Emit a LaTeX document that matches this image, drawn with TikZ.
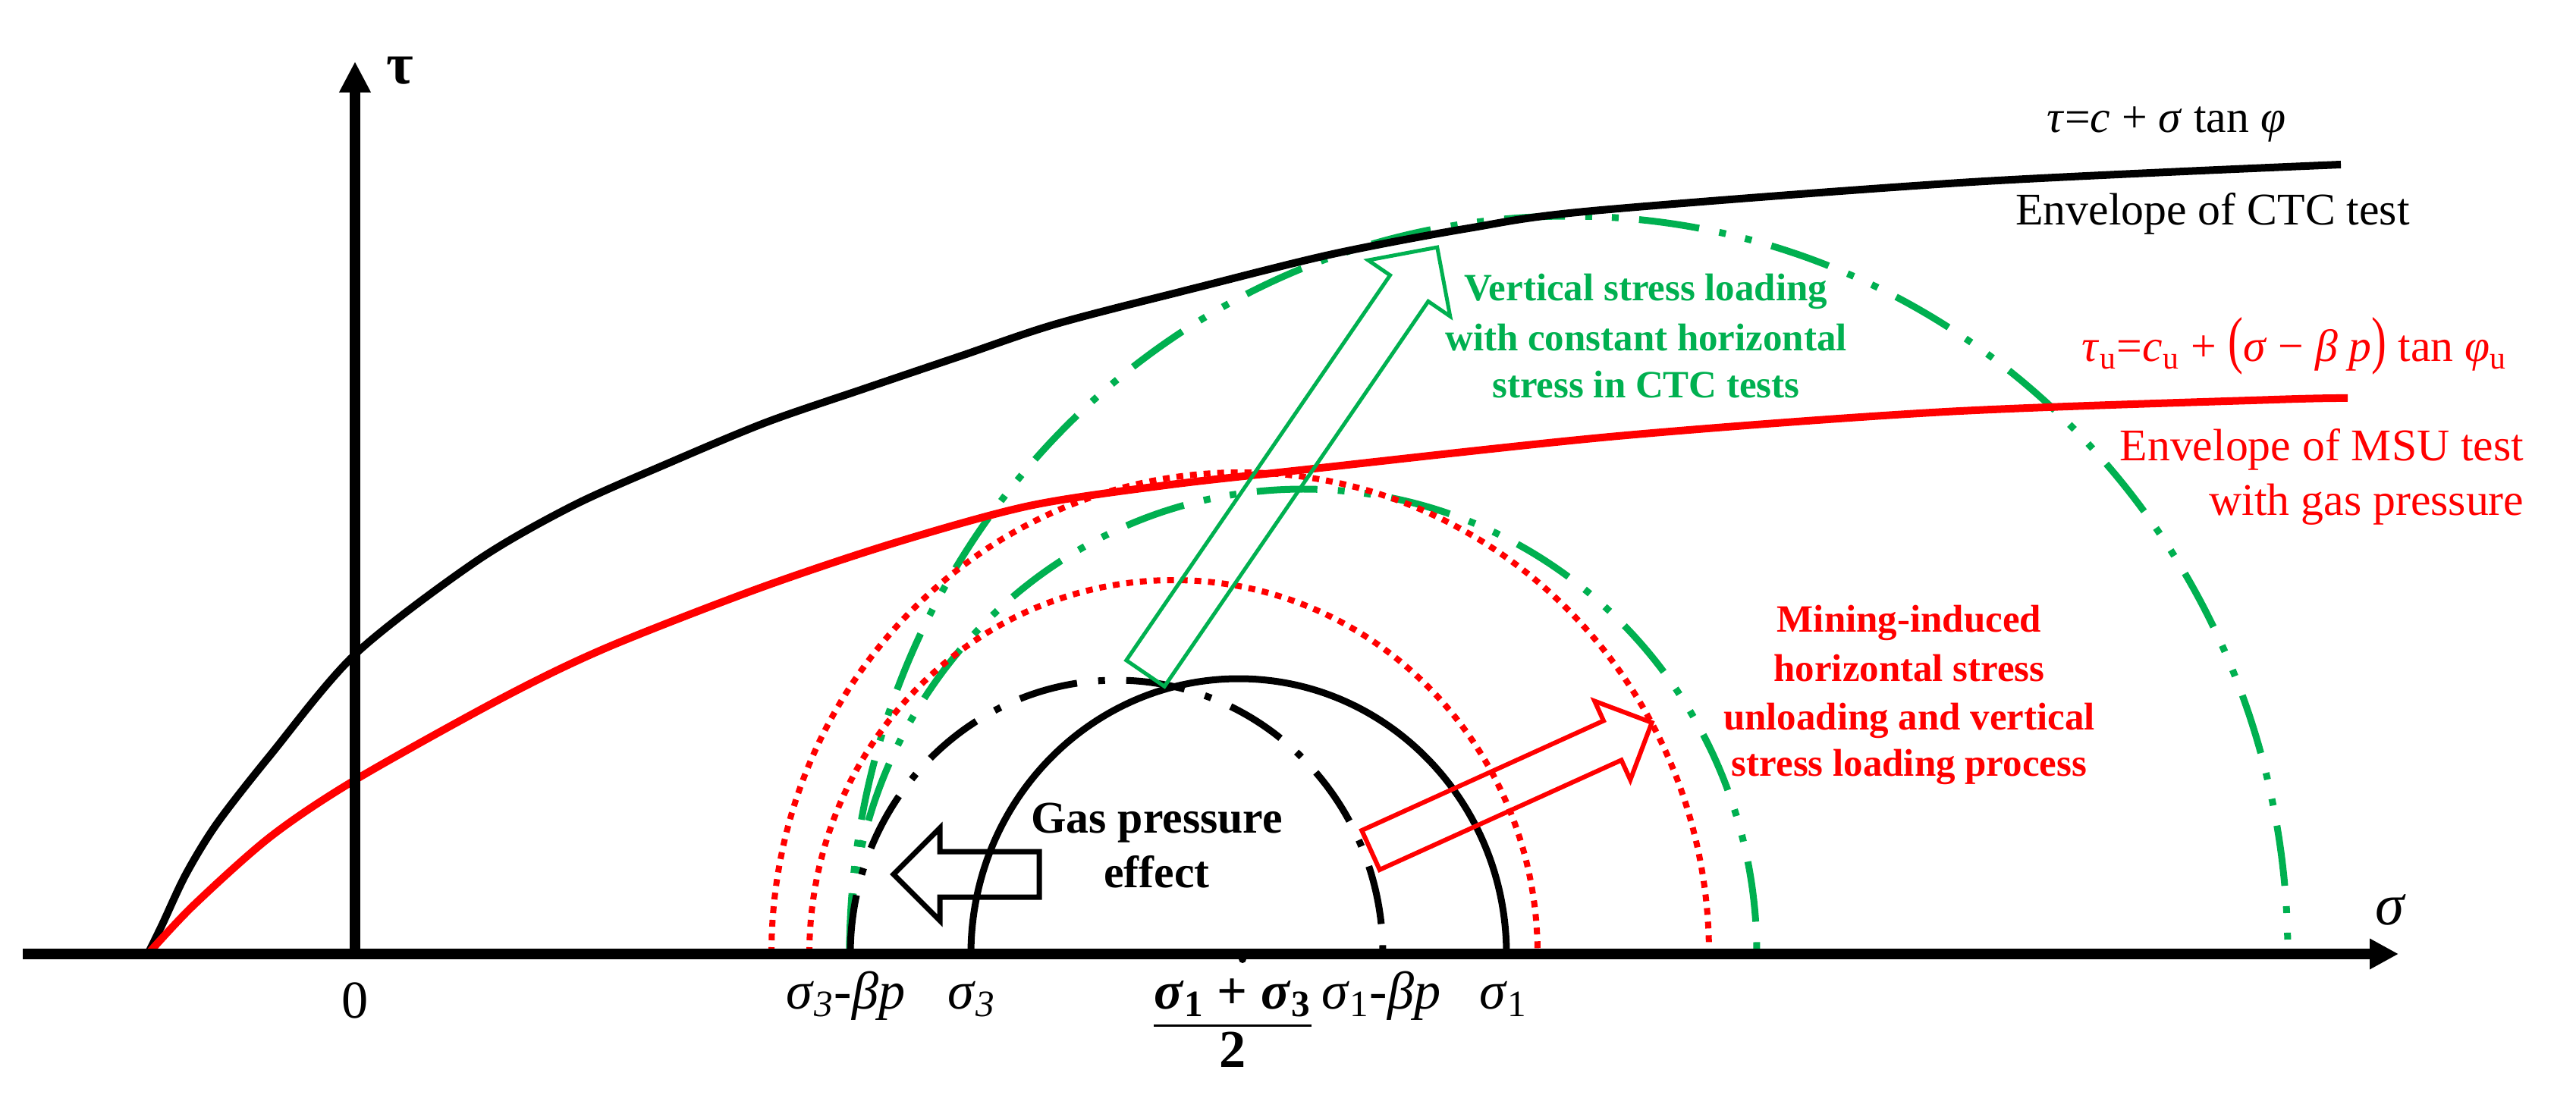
\documentclass[tikz,border=0pt]{standalone}
\usepackage{fontspec}
\setmainfont{Liberation Serif}
\usepackage{graphicx}
\usetikzlibrary{arrows.meta,shapes.arrows}

\definecolor{ctcgreen}{RGB}{0,176,80}

\tikzset{
  axisline/.style={line width=0.14cm},
  mohr/.style={line width=0.09cm},
  dashdot/.style={mohr,dash pattern=on 0.78cm off 0.28cm on 0.09cm off 0.28cm},
  dashdotdot/.style={mohr,ctcgreen,dash pattern=on 0.8cm off 0.27cm on 0.09cm off 0.26cm on 0.09cm off 0.27cm},
  dotline/.style={red,line width=0.08cm,dash pattern=on 0.09cm off 0.09cm},
  envelope/.style={line width=0.1cm},
  blockarrow/.style={single arrow,single arrow tip angle=90,anchor=tail,inner xsep=0pt,outer sep=0pt},
  lab/.style={inner sep=0pt,anchor=base,font=\fontsize{20}{24}\selectfont},
  envlab/.style={inner sep=0pt,anchor=base,font=\fontsize{17}{20}\selectfont},
  note/.style={inner sep=0pt,anchor=base,font=\fontsize{14.5}{17}\selectfont\bfseries},
}

\begin{document}
\begin{tikzpicture}
\useasboundingbox (-4.68,-1.85) rectangle (29.28,12.58);

% Mohr circles
\draw[dashdotdot] (6.52,0) arc[start angle=180,end angle=0,x radius=9.48,y radius=9.73];
\draw[dashdotdot] (6.52,0) arc[start angle=180,end angle=0,x radius=5.98,y radius=6.13];
\draw[dotline] (5.49,0) arc[start angle=180,end angle=0,x radius=6.18,y radius=6.35];
\draw[dotline] (5.99,0) arc[start angle=180,end angle=0,x radius=4.80,y radius=4.93];
\draw[dashdot] (6.53,0) arc[start angle=180,end angle=0,x radius=3.51,y radius=3.61];
\draw[mohr] (8.12,0) arc[start angle=180,end angle=0,x radius=3.53,y radius=3.63];
\fill (11.70,-0.07) circle (0.05);

% envelopes
\draw[envelope] plot[smooth] coordinates {(-2.73,0) (-2.54,0.39) (-2.23,1.05) (-1.82,1.72)
  (-1.11,2.63) (0.01,3.96) (1.60,5.18) (2.87,5.91) (4.15,6.48) (5.42,7.01) (6.70,7.45)
  (7.97,7.88) (9.25,8.31) (11.11,8.79) (12.89,9.23) (14.68,9.57) (16.32,9.80) (21.32,10.18)
  (26.18,10.41)};
\draw[envelope,red] plot[smooth] coordinates {(-2.73,0) (-2.13,0.64) (-1.11,1.55) (0.01,2.30)
  (1.95,3.38) (3.32,4.04) (5.32,4.82) (7.11,5.42) (8.89,5.91) (10.68,6.18) (12.46,6.38)
  (16.65,6.83) (20.97,7.15) (25.30,7.31) (26.27,7.33)};

% block arrows
\node[blockarrow,draw=ctcgreen,line width=0.05cm,inner ysep=0.28cm,single arrow head extend=0.35cm,
  minimum height=6.81cm,rotate=55.6] (loadarrow) at (10.42,3.70) {};
\node[blockarrow,draw=red,line width=0.06cm,inner ysep=0.255cm,single arrow head extend=0.285cm,
  minimum height=4.07cm,rotate=24.4] (minearrow) at (13.39,1.37) {};
\node[blockarrow,draw=black,line width=0.07cm,inner ysep=0.265cm,single arrow head extend=0.31cm,
  minimum height=1.92cm,rotate=180] (gasarrow) at (9.02,1.05) {};

% axes
\coordinate (sigstart) at (-4.38,0);
\coordinate (sigend) at (26.94,0);
\coordinate (origin) at (0,0);
\coordinate (tauend) at (0,11.77);
\draw[axisline,-{Triangle[length=0.38cm,width=0.38cm]}] (sigstart) -- (sigend);
\draw[axisline,-{Triangle[length=0.41cm,width=0.39cm]}] (origin) -- (tauend);
\node[inner sep=0pt,font=\fontsize{22}{26}\selectfont\bfseries] (taulab) at (0.59,11.65) {τ};
\node[inner sep=0pt,font=\fontsize{22}{26}\selectfont\itshape] (siglab) at (26.83,0.58) {σ};

% ticks
\node[lab] (zero) at (0,-0.84) {0};
\node[lab] (s3b) at (6.47,-0.72) {\textit{σ}\textsubscript{\textit{3}}-\textit{βp}};
\node[lab] (s3) at (8.13,-0.72) {\textit{σ}\textsubscript{\textit{3}}};
\node[lab] (num) at (11.57,-0.72) {\textbf{\textit{σ}\textsubscript{1} + \textit{σ}\textsubscript{3}}};
\draw[line width=0.03cm] ([yshift=-0.1cm]num.south west) -- ([yshift=-0.1cm]num.south east);
\node[lab] (den) at (11.57,-1.49) {\textbf{2}};
\node[lab] (s1b) at (13.53,-0.72) {\textit{σ}\textsubscript{1}-\textit{βp}};
\node[lab] (s1) at (15.14,-0.72) {\textit{σ}\textsubscript{1}};

% envelope labels
\node[envlab] (ctcform) at (23.88,10.83) {\textit{τ}=\textit{c} + \textit{σ} tan \textit{φ}};
\node[envlab] (ctclab) at (24.49,9.61) {Envelope of CTC test};
\node[envlab,red] (msuform) at (25.57,7.81) {\textit{τ}\textsubscript{u}=\textit{c}\textsubscript{u} +
  \scalebox{1}[1.4]{(}\textit{σ} − \textit{β p}\scalebox{1}[1.4]{)} tan \textit{φ}\textsubscript{u}};
\node[envlab,red,anchor=base east] (msulab1) at (28.60,6.50) {Envelope of MSU test};
\node[envlab,red,anchor=base east] (msulab2) at (28.60,5.78) {with gas pressure};

% notes
\node[note,ctcgreen] (vert1) at (17.02,8.61) {Vertical stress loading};
\node[note,ctcgreen] (vert2) at (17.02,7.95) {with constant horizontal};
\node[note,ctcgreen] (vert3) at (17.02,7.33) {stress in CTC tests};
\node[note,red] (mine1) at (20.49,4.25) {Mining-induced};
\node[note,red] (mine2) at (20.49,3.60) {horizontal stress};
\node[note,red] (mine3) at (20.49,2.96) {unloading and vertical};
\node[note,red] (mine4) at (20.49,2.35) {stress loading process};
\node[note,font=\fontsize{17}{20}\selectfont\bfseries] (gas1) at (10.57,1.60) {Gas pressure};
\node[note,font=\fontsize{17}{20}\selectfont\bfseries] (gas2) at (10.57,0.88) {effect};
\end{tikzpicture}
\end{document}
